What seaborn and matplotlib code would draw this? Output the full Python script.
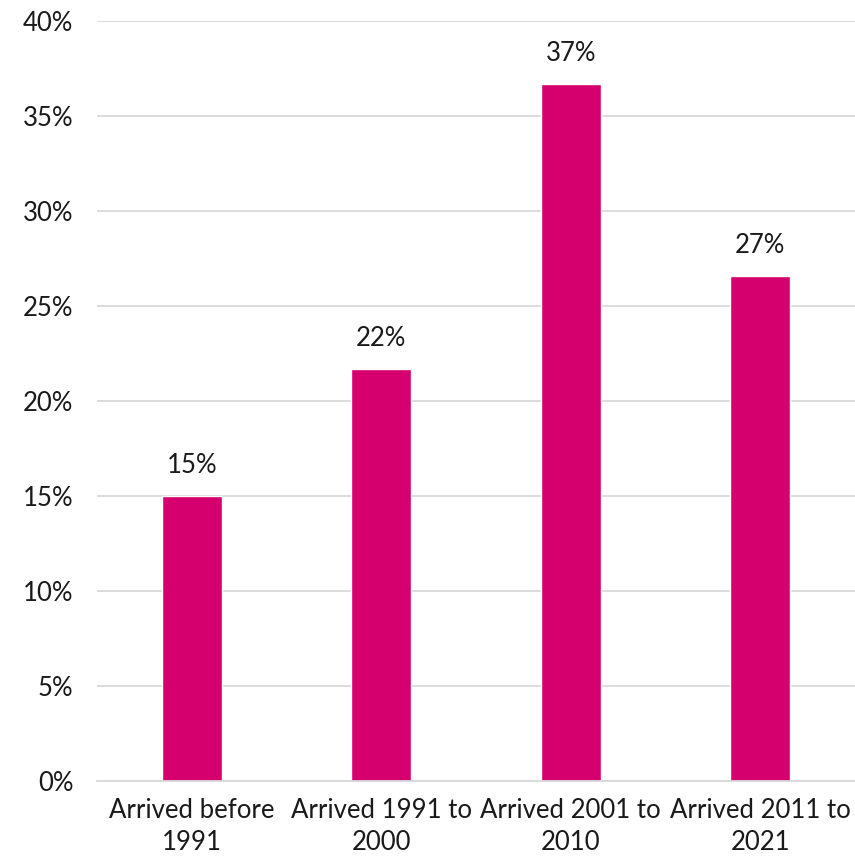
import matplotlib
matplotlib.use("Agg")
import matplotlib.pyplot as plt
import seaborn as sns
import pandas as pd
from matplotlib.ticker import MultipleLocator, FuncFormatter

# Share of residents by period of arrival
categories = [
    "Arrived before\n1991",
    "Arrived 1991 to\n2000",
    "Arrived 2001 to\n2010",
    "Arrived 2011 to\n2021",
]
shares = [15.0, 21.7, 36.7, 26.6]

df = pd.DataFrame({"period": categories, "share": shares})

sns.set_theme(style="white")
plt.rcParams["font.family"] = ["Lato", "DejaVu Sans"]

BAR = "#D5006D"
GRID = "#D9D9D9"
TEXT = "#1A1A1A"
FS = 18.5

fig = plt.figure(figsize=(8.55, 8.59), dpi=100)
ax = fig.add_axes([0.1135, 0.0908, 0.8865, 0.8848])

sns.barplot(data=df, x="period", y="share", color=BAR, width=0.316,
            saturation=1, ax=ax)

ax.set_ylim(0, 40)
ax.set_xlim(-0.5, 3.5)
ax.yaxis.set_major_locator(MultipleLocator(5))
ax.yaxis.set_major_formatter(FuncFormatter(lambda v, _: f"{v:.0f}%"))
ax.grid(axis="y", color=GRID, linewidth=1.3)
ax.set_axisbelow(True)

for s in ["top", "right", "left"]:
    ax.spines[s].set_visible(False)
ax.spines["bottom"].set_color(GRID)
ax.spines["bottom"].set_linewidth(1.3)

ax.set_xlabel("")
ax.set_ylabel("")
ax.tick_params(axis="y", length=0, pad=17, labelsize=FS, labelcolor=TEXT)
ax.tick_params(axis="x", length=0, pad=12, labelsize=FS, labelcolor=TEXT)
for lbl in ax.get_xticklabels():
    lbl.set_linespacing(1.35)

ax.bar_label(ax.containers[0], labels=[f"{round(v):.0f}%" for v in shares],
             padding=13, fontsize=FS, color=TEXT)

fig.savefig("out.png", dpi=100)
